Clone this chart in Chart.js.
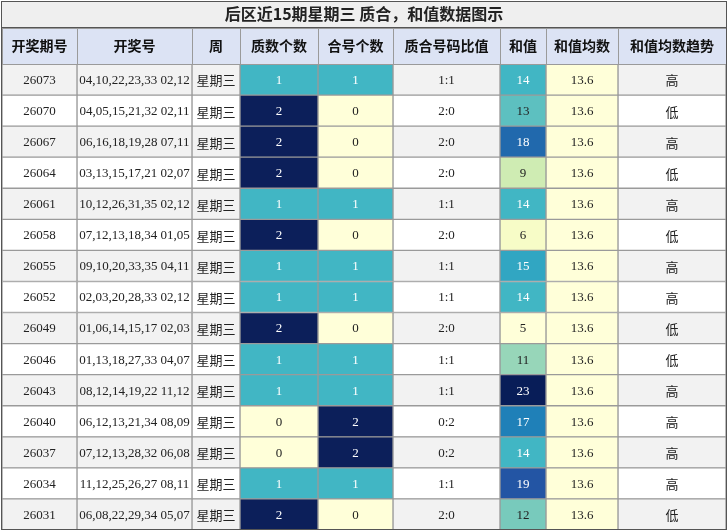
<!DOCTYPE html>
<html><head><meta charset="utf-8">
<script src="https://cdn.jsdelivr.net/npm/chart.js@4"></script>
<style>html,body{margin:0;padding:0;background:#fff}</style>
</head><body>
<canvas id="c" width="728" height="530"></canvas>
<script>
const titleText = "后区近15期星期三 质合，和值数据图示";
const headers = ["开奖期号","开奖号","周","质数个数","合号个数","质合号码比值","和值","和值均数","和值均数趋势"];
const issues = ["26073","26070","26067","26064","26061","26058","26055","26052","26049","26046","26043","26040","26037","26034","26031"];
const numbers = ["04,10,22,23,33 02,12","04,05,15,21,32 02,11","06,16,18,19,28 07,11","03,13,15,17,21 02,07","10,12,26,31,35 02,12","07,12,13,18,34 01,05","09,10,20,33,35 04,11","02,03,20,28,33 02,12","01,06,14,15,17 02,03","01,13,18,27,33 04,07","08,12,14,19,22 11,12","06,12,13,21,34 08,09","07,12,13,28,32 06,08","11,12,25,26,27 08,11","06,08,22,29,34 05,07"];
const weekday = Array(15).fill("星期三");
const primeCount = [1,2,2,2,1,2,1,1,2,1,1,0,0,1,2];
const compCount = [1,0,0,0,1,0,1,1,0,1,1,2,2,1,0];
const ratio = ["1:1","2:0","2:0","2:0","1:1","2:0","1:1","1:1","2:0","1:1","1:1","0:2","0:2","1:1","2:0"];
const sums = [14,13,18,9,14,6,15,14,5,11,23,17,14,19,12];
const avg = Array(15).fill("13.6");
const trend = ["高","低","高","低","高","低","高","高","低","低","高","高","高","高","低"];

const colWidths = [75,115,48,78,75,107,46,72,108];
const ylgnbu = ["#ffffd9","#edf8b1","#c7e9b4","#7fcdbb","#41b6c4","#1d91c0","#225ea8","#253494","#081d58"];
function hex(h){return [1,3,5].map(i=>parseInt(h.substr(i,2),16));}
function interp(t){t=Math.max(0,Math.min(1,t));const p=t*8,i=Math.min(7,Math.floor(p)),f=p-i;
 const a=hex(ylgnbu[i]),b=hex(ylgnbu[i+1]);return "rgb("+a.map((v,k)=>Math.round(v+(b[k]-v)*f)).join(",")+")";}
const cntColor = v => v===0?"#ffffd9":(v===1?"#41b6c4":"#0c1f5a");
const cntText = v => v===0?"#222":"#fff";
const sMin=Math.min(...sums), sMax=Math.max(...sums);
const sumT = v => (v-sMin)/(sMax-sMin);
const rowBg = i => i%2===0?"#f2f2f2":"#ffffff";

const rows = issues.map((_,i)=>String(i));
const cols = [
 {vals:issues, bg:rowBg, fg:()=>"#222"},
 {vals:numbers, bg:rowBg, fg:()=>"#222"},
 {vals:weekday, bg:rowBg, fg:()=>"#222"},
 {vals:primeCount, bg:i=>cntColor(primeCount[i]), fg:i=>cntText(primeCount[i])},
 {vals:compCount, bg:i=>cntColor(compCount[i]), fg:i=>cntText(compCount[i])},
 {vals:ratio, bg:rowBg, fg:()=>"#222"},
 {vals:sums, bg:i=>interp(sumT(sums[i])), fg:i=>sumT(sums[i])>=0.5?"#fff":"#222"},
 {vals:avg, bg:()=>"#ffffd9", fg:()=>"#222"},
 {vals:trend, bg:rowBg, fg:()=>"#222"}
];
const datasets = cols.map((c,ci)=>({
 data: rows.map(()=>colWidths[ci]),
 backgroundColor: rows.map((_,i)=>c.bg(i)),
 borderColor:"#9a9a9a", borderWidth:1, borderSkipped:false,
 barPercentage:1, categoryPercentage:1
}));
const FONT = '"Liberation Serif","Noto Sans CJK SC",serif';
const plugin = {
 id:"table",
 beforeDraw(ch){const g=ch.ctx;g.save();g.fillStyle="#fff";g.fillRect(0,0,728,530);g.restore();},
 afterDatasetsDraw(ch){
  const g=ch.ctx, xs=ch.scales.x, ca=ch.chartArea;
  g.save();
  // title
  g.fillStyle="#efefef";g.fillRect(1,1,726,26);
  g.strokeStyle="#555";g.lineWidth=1;g.strokeRect(1.5,1.5,725,26);
  g.fillStyle="#222";g.font='bold 16px "Noto Sans CJK SC",sans-serif';
  g.textAlign="center";g.textBaseline="middle";g.fillText(titleText,364,14);
  // header
  let acc=0;
  headers.forEach((h,ci)=>{
   const x0=xs.getPixelForValue(acc), x1=xs.getPixelForValue(acc+colWidths[ci]); acc+=colWidths[ci];
   g.fillStyle="#dce3f4";g.fillRect(x0,28,x1-x0,ca.top-28);
   g.strokeStyle="#9a9a9a";g.strokeRect(x0+0.5,28.5,x1-x0,ca.top-28);
   g.fillStyle="#111";g.font='bold 14px "Noto Sans CJK SC",sans-serif';
   g.fillText(h,(x0+x1)/2,(28+ca.top)/2);
  });
  // cell texts
  cols.forEach((c,ci)=>{
   ch.getDatasetMeta(ci).data.forEach((el,i)=>{
    g.fillStyle=c.fg(i);
    g.font=(typeof c.vals[i]==="string" && /[\u4e00-\u9fff]/.test(c.vals[i]))?'13px "Noto Sans CJK SC",sans-serif':'13px '+FONT;
    g.fillText(String(c.vals[i]),(el.x+el.base)/2,el.y+1);
   });
  });
  g.strokeStyle="#555";g.strokeRect(1.5,27.5,725,529-27);
  g.restore();
 }
};
new Chart(document.getElementById("c"),{
 type:"bar",
 data:{labels:rows,datasets},
 options:{
  indexAxis:"y", responsive:false, animation:false, devicePixelRatio:1,
  layout:{padding:{top:64,left:2,right:2,bottom:0}},
  scales:{
   x:{stacked:true,display:false,min:0,max:colWidths.reduce((a,b)=>a+b,0)},
   y:{stacked:true,display:false}
  },
  plugins:{legend:{display:false},tooltip:{enabled:false},title:{display:false}}
 },
 plugins:[plugin]
});
</script>
</body></html>
